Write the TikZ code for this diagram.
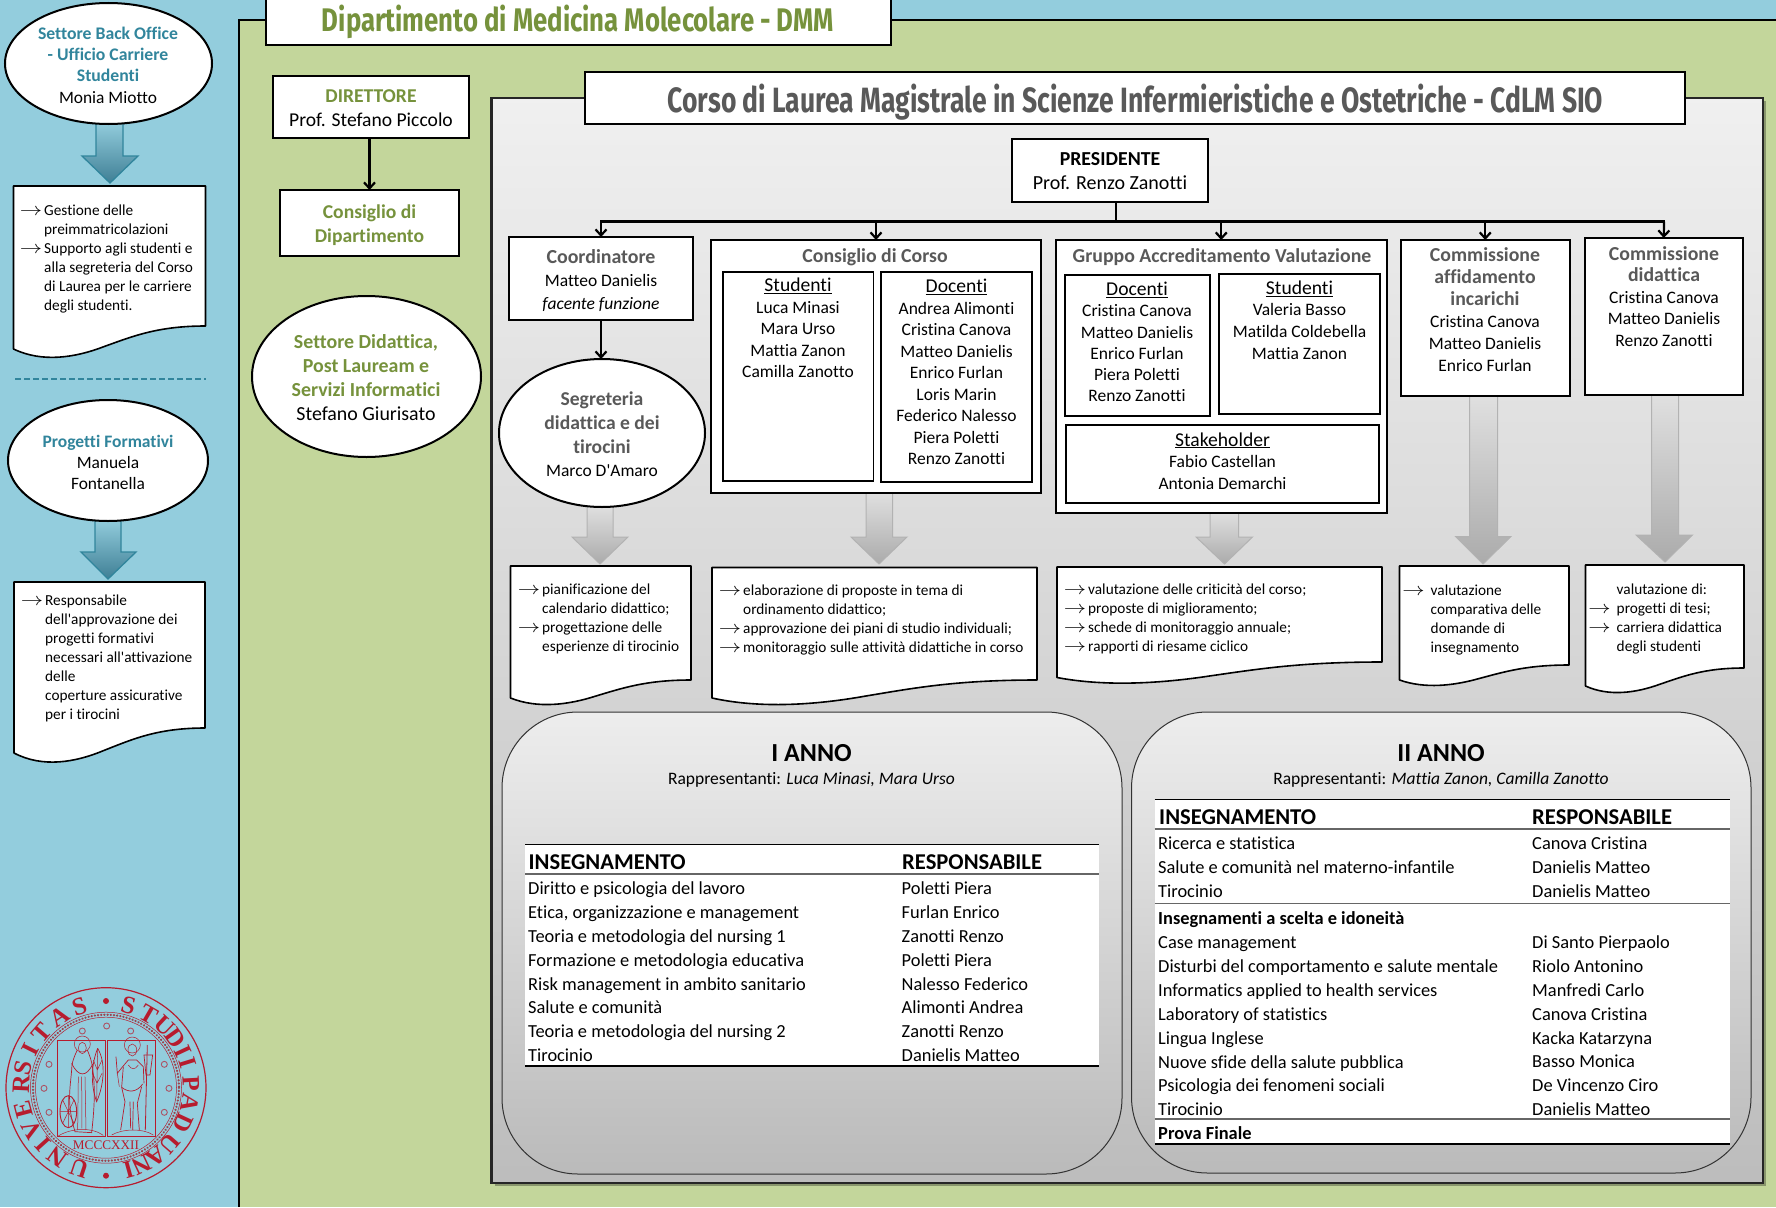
\documentclass[tikz,border=0pt]{standalone}
\usepackage{fontspec}
\setmainfont{Carlito}[Ligatures={TeXOff,CommonOff}]
\newfontfamily\titlefont{Fira Sans}
\newfontfamily\sealfont{Liberation Serif}
\usetikzlibrary{shapes.geometric,arrows.meta}
\definecolor{bgblue}{HTML}{93CDDD}
\definecolor{bggreen}{HTML}{C3D69B}
\definecolor{dgreen}{HTML}{76923C}
\definecolor{teal}{HTML}{31859C}
\definecolor{tealdk}{HTML}{3F7F95}
\definecolor{dgray}{HTML}{595959}
\definecolor{sealred}{HTML}{B71C2E}
\newcommand\fs[2]{\fontsize{#1}{#2}\selectfont}
\newcommand\arr{\scalebox{1.55}[1.25]{$\rightarrow$}}
\newcommand\ar{\llap{\arr\hspace{2pt}}}
\newcommand\arw{\llap{\arr\hspace{6pt}}}
\newcommand\hgreen[1]{\textcolor{dgreen}{\textbf{#1}}}
\newcommand\hteal[1]{\textcolor{teal}{\textbf{#1}}}
\newcommand\hgray[1]{\textcolor{dgray}{\textbf{#1}}}
% box by corners
\newcommand\rb[6][boxs]{%
  \pgfmathsetmacro\cxa{(#3+#5)/2}\pgfmathsetmacro\cya{(#4+#6)/2}%
  \pgfmathsetmacro\wa{#5-#3}\pgfmathsetmacro\ha{#6-#4}%
  \node[#1,minimum width=\wa pt,minimum height=\ha pt] (#2) at (\cxa,\cya) {};}
% text node
\newcommand\tn[5][ctext]{\node[#1,#3] (#2) at (#4) {#5};}
% document shape: l t r yr yl
\newcommand\docshape[5]{%
  \pgfmathsetmacro\w{#3-#1}\pgfmathsetmacro\h{#5-#4}%
  \pgfmathsetmacro\ax{#3-.25*\w}\pgfmathsetmacro\bx{#1+.62*\w}\pgfmathsetmacro\by{#5-.55*\h}%
  \pgfmathsetmacro\mx{#1+.47*\w}\pgfmathsetmacro\my{#5-.1*\h}%
  \pgfmathsetmacro\cx{#1+.32*\w}\pgfmathsetmacro\cy{#5+.38*\h}%
  \pgfmathsetmacro\dx{#1+.15*\w}\pgfmathsetmacro\dy{#5+.6*\h}%
  \draw[docs] (#1,#2) -- (#3,#2) -- (#3,#4) .. controls (\ax,#4) and (\bx,\by) .. (\mx,\my)
     .. controls (\cx,\cy) and (\dx,\dy) .. (#1,#5) -- cycle;}
% block arrow: style sx1 sx2 y1 y2 hx1 hx2 tipx tipy
\newcommand\barrow[9]{%
  \draw[#1] (#2,#4) -- (#3,#4) -- (#3,#5) -- (#7,#5) -- (#8,#9) -- (#6,#5) -- (#2,#5) -- cycle;}
\tikzset{
  x=1pt,y=-1pt,
  boxs/.style={draw=black,fill=white,line width=2pt,inner sep=0pt,outer sep=0pt},
  ell/.style={ellipse,draw=black,fill=white,line width=2pt,inner sep=0pt,outer sep=0pt},
  docs/.style={draw=black,fill=white,line width=1.6pt,line join=round},
  ctext/.style={align=center,inner sep=0pt,text=black,yshift=-1pt},
  ltext/.style={align=left,inner sep=0pt,anchor=west,text=black,yshift=-1pt},
  link/.style={draw=black,line width=2.4pt},
  linka/.style={draw=black,line width=2.2pt,-{Straight Barb[length=6pt,width=11pt]}},
  bluearr/.style={draw=teal,line width=1.3pt,top color=bgblue,bottom color=tealdk,line join=miter},
  grayarr/.style={draw=black!30,line width=1pt,top color=black!12,bottom color=black!33},
  panel/.style={draw=black!80,line width=1pt,top color=black!7,bottom color=black!27,rounded corners=76pt},
  srow/.style={font=\fs{18.4}{23.86}},
  shead/.style={font=\fs{22.6}{24}\bfseries},
  dtext/.style={ltext,font=\fs{15.3}{19},yshift=-1.4pt},
  seal/.style={draw=sealred,line width=.5pt},
}
\begin{document}
\begin{tikzpicture}
\useasboundingbox (0,0) rectangle (1776,1207);
% backgrounds
\fill[bgblue] (0,0) rectangle (1776,1207);
\fill[bggreen] (239,20) rectangle (1776,1207);
\draw[black,line width=2.2pt] (239,1207) -- (239,20) -- (1776,20);

% left column
\barrow{bluearr}{96}{123}{122}{156}{82}{138}{110}{183}
\barrow{bluearr}{95}{121}{519}{552}{81}{136}{108}{579}
\rb[ell]{elBack}{5}{3}{212}{124}
\tn{tBack}{font=\fs{17.7}{21}}{108,64}{\hteal{Settore Back Office}\\\hteal{- Ufficio Carriere}\\\hteal{Studenti}\\[1pt]\fs{17.4}{21}Monia Miotto}
\docshape{13.5}{186}{205.5}{326}{349}
\tn[dtext]{tDoc1}{}{44,256.5}{\ar Gestione delle\\preimmatricolazioni\\\ar Supporto agli studenti e\\alla segreteria del Corso\\di Laurea per le carriere\\degli studenti.}
\draw[teal,line width=1.4pt,dash pattern=on 6pt off 3pt] (15,379) -- (206,379);
\rb[ell]{elProg}{8}{400}{208}{521}
\tn{tProg}{font=\fs{17.5}{21}}{108,461}{\hteal{Progetti Formativi}\\\fs{17.4}{21}Manuela\\\fs{17.4}{21}Fontanella}
\docshape{14}{582}{205}{728}{753}
\tn[dtext]{tDoc2}{}{45,656.5}{\ar Responsabile\\dell'approvazione dei\\progetti formativi\\necessari all'attivazione\\delle\\coperture assicurative\\per i tirocini}

% seal
\draw[sealred,line width=1.2pt] (106,1087.7) circle (100);
\draw[sealred,line width=.5pt] (106,1087.7) circle (75.5);
\draw[sealred!70!black!80,line width=2.4pt,dash pattern=on .1pt off 3.1pt,line cap=round] (106,1087.7) circle (73);
\draw[sealred,line width=.5pt] (106,1087.7) circle (70.5);
\fill[sealred] (106,1001) circle (3) (106,1175.7) circle (3);
\foreach \l/\a [count=\i] in {U/251.6,N/234.8,I/221.9,V/209.5,E/194.7,R/177.4,S/166.8,I/153.2,T/139.4,A/123.2,S/108.2,S/74.6,T/60,U/46.8,D/35.3,I/25,I/17,P/3,A/-10.6,D/-24.8,U/-41,A/-53.7,N/-64.7,I/-74.5}{
  \pgfmathsetmacro\sx{106+85*cos(\a)}\pgfmathsetmacro\sy{1087.7-85*sin(\a)}
  \pgfmathsetmacro\rt{\a-90}
  \node[inner sep=0pt,text=sealred,font=\sealfont\bfseries\fs{25}{25},rotate=\rt] (sl\i) at (\sx,\sy) {\l};
}
\node[inner sep=0pt,text=sealred,font=\sealfont\fs{13.2}{14}] (tSealYear) at (106,1145) {MCCCXXII};
\begin{scope}[x=.3333pt,y=-.3333pt,yshift=-960pt,seal]
  \foreach \p in {(247,213),(320,198),(392,213),(493,313),(507,385),(493,457),(147,313),(132,385),(147,457)}{
    \draw[seal,line width=.9pt,draw=sealred!70!bgblue] \p circle (9);
  }
  \draw[seal,line width=.7pt] (173,240) rectangle (317,530);
  \draw[seal,line width=.7pt] (323,240) rectangle (465,530);
  % woman
  \draw[seal] (247,252) circle (24);
  \draw[seal] (247,264) ellipse (12 and 17);
  \draw[seal,line width=.7pt] (232,270) .. controls (220,295) and (215,310) .. (215,330) .. controls (210,390) and (200,430) .. (225,515) -- (275,518) .. controls (285,430) and (285,380) .. (278,325) .. controls (275,300) and (268,285) .. (262,270);
  \draw[seal,line width=.7pt] (215,310) .. controls (235,352) and (260,352) .. (278,312);
  \draw[seal] (235,350) -- (233,510) (255,350) -- (258,510) (245,350) -- (246,505);
  \draw[seal,line width=.7pt] (293,265) .. controls (320,310) and (310,380) .. (290,425) .. controls (270,370) and (275,310) .. (293,265);
  \draw[seal] (293,265) -- (290,425) (280,300) -- (292,330) (306,300) -- (292,330) (278,340) -- (291,370) (306,340) -- (291,370);
  \draw[seal,line width=.9pt] (205,455) ellipse (25 and 48);
  \draw[seal] (180,455) -- (230,455) (205,407) -- (205,503) (188,420) -- (222,490) (188,490) -- (222,420);
  \draw[seal] (175,528) .. controls (210,505) and (275,500) .. (310,526);
  % man
  \draw[seal] (397,255) circle (24);
  \draw[seal] (397,270) ellipse (13 and 18);
  \draw[seal,line width=.7pt] (348,290) -- (352,340) -- (368,320) -- (385,300) -- (410,300) -- (430,320) -- (432,370);
  \draw[seal,line width=.7pt] (370,320) -- (365,382) .. controls (385,398) and (410,398) .. (428,372);
  \draw[seal] (352,340) -- (358,380);
  \draw[seal,line width=.7pt] (365,382) -- (375,425) -- (362,510) (425,380) -- (412,430) -- (418,510) (390,425) -- (392,505) (400,425) -- (398,510);
  \draw[seal] (385,315) .. controls (395,330) and (405,330) .. (415,315);
  \draw[seal,line width=.8pt] (442,255) -- (436,510);
  \draw[seal,line width=.7pt] (432,285) -- (458,285) -- (450,345) -- (438,345) -- cycle;
  \draw[seal] (335,525) .. controls (370,505) and (430,505) .. (460,525);
\end{scope}

% department title
\rb{boxDept}{266}{-4}{891}{45}
\node[inner sep=0pt,text=dgreen] (tDept) at (578,22) {\resizebox{512pt}{26.5pt}{\titlefont\bfseries Dipartimento di Medicina Molecolare - DMM}};
\rb{boxDir}{273}{76}{469}{138}
\tn{tDir}{font=\fs{19.6}{24}}{371,107}{\hgreen{DIRETTORE}\\Prof. Stefano Piccolo}
\rb{boxCdip}{280}{190}{459}{256}
\tn{tCdip}{font=\fs{19.6}{24}}{369.5,224}{\hgreen{Consiglio di}\\\hgreen{Dipartimento}}
\draw[linka] (boxCdip.north |- boxDir.south) -- (boxCdip.north);
\rb[ell]{elSet}{252}{296}{481}{457}
\tn{tSet}{font=\fs{19.9}{24}}{366,376.5}{\hgreen{Settore Didattica,}\\\hgreen{Post Lauream e}\\\hgreen{Servizi Informatici}\\Stefano Giurisato}

% main panel
\fill[black,opacity=.3] (494.5,101) rectangle (1766,1186);
\path[draw=black!85,line width=2.2pt,top color=black!6,bottom color=black!26] (491.5,98) rectangle (1763,1183);
\rb{boxCourse}{585}{72}{1685}{124}
\node[inner sep=0pt,text=dgray] (tCourse) at (1135.5,102) {\resizebox{935.5pt}{28.5pt}{\titlefont\bfseries Corso di Laurea Magistrale in Scienze Infermieristiche e Ostetriche - CdLM SIO}};

% gray arrows
\barrow{grayarr}{587}{613}{505}{537}{572}{628}{600}{564}
\barrow{grayarr}{866}{892.5}{492}{537}{851}{907}{879}{564}
\barrow{grayarr}{1210}{1238.5}{512}{537}{1196}{1252.5}{1224.5}{564}
\barrow{grayarr}{1469.5}{1497.5}{394}{536.5}{1455.5}{1511}{1483}{564}
\barrow{grayarr}{1651.5}{1678.5}{393}{535}{1636}{1692.5}{1665}{562}

% organisation boxes
\rb{boxPres}{1012}{139}{1208}{201.5}
\tn{tPres}{font=\fs{19.8}{24}}{1110,170}{\textbf{PRESIDENTE}\\\fs{20}{24}Prof. Renzo Zanotti}
\rb{boxCoord}{509}{237}{693}{320}
\tn{tCoord}{font=\fs{17.5}{23}}{601,280}{\fs{19.9}{23}\hgray{Coordinatore}\\Matteo Danielis\\\textit{facente funzione}}
\rb[ell]{elSeg}{499}{359}{705}{507}
\tn{tSeg}{font=\fs{19.6}{23.6}}{602,433.5}{\hgray{Segreteria}\\\hgray{didattica e dei}\\\hgray{tirocini}\\\fs{17.5}{23.6}Marco D'Amaro}
\rb{boxCons}{711}{240}{1041}{493}
\tn{tCons}{font=\fs{19.8}{23}}{875,256}{\hgray{Consiglio di Corso}}
\rb[boxs,line width=1.6pt]{boxStud}{723}{272}{873.5}{481}
\tn{tStud}{font=\fs{17.5}{21.6}}{798,327}{\fs{19.6}{21.6}\underline{Studenti}\\Luca Minasi\\Mara Urso\\Mattia Zanon\\Camilla Zanotto}
\rb[boxs,line width=1.6pt]{boxDoc}{881}{272}{1032}{482}
\tn{tDoc}{font=\fs{17.5}{21.5}}{956.5,371}{\fs{19.6}{21.5}\underline{Docenti}\\Andrea Alimonti\\Cristina Canova\\Matteo Danielis\\Enrico Furlan\\Loris Marin\\Federico Nalesso\\Piera Poletti\\Renzo Zanotti}
\rb{boxGrp}{1056}{240}{1386.5}{513}
\tn{tGrp}{font=\fs{19.8}{23}}{1222,256}{\hgray{Gruppo Accreditamento Valutazione}}
\rb[boxs,line width=1.6pt]{boxGD}{1065}{275}{1210}{416}
\tn{tGD}{font=\fs{17.5}{21.3}}{1137,341}{\fs{19.6}{21.3}\underline{Docenti}\\Cristina Canova\\Matteo Danielis\\Enrico Furlan\\Piera Poletti\\Renzo Zanotti}
\rb[boxs,line width=1.6pt]{boxGS}{1219}{274}{1380}{414}
\tn{tGS}{font=\fs{17.5}{21.7}}{1299.5,319}{\fs{19.6}{21.7}\underline{Studenti}\\Valeria Basso\\Matilda Coldebella\\Mattia Zanon}
\rb[boxs,line width=1.6pt]{boxGK}{1066}{425}{1379}{503}
\tn{tGK}{font=\fs{17.5}{21.7}}{1222.5,460}{\fs{19.6}{21.7}\underline{Stakeholder}\\Fabio Castellan\\Antonia Demarchi}
\rb{boxAff}{1400.5}{240}{1570}{395.5}
\tn{tAff}{font=\fs{17.5}{22}}{1485,308.5}{\fs{19.8}{23.9}\hgray{Commissione}\\\fs{19.8}{23.9}\hgray{affidamento}\\\fs{19.8}{23.9}\hgray{incarichi}\\Cristina Canova\\Matteo Danielis\\Enrico Furlan}
\rb{boxDid}{1584.5}{238}{1743}{394.5}
\tn{tDid}{font=\fs{17.5}{21.5}}{1664,295.5}{\fs{19.8}{23.5}\hgray{Commissione}\\\fs{19.8}{23.5}\hgray{didattica}\\Cristina Canova\\Matteo Danielis\\Renzo Zanotti}
% connectors
\coordinate (stem) at (1116,201.5);
\coordinate (trL) at (601,221.5);
\coordinate (trR) at (1664,221.5);
\draw[link] (stem) -- (stem |- trL);
\draw[link,line cap=rect] (trL) -- (trR);
\draw[linka] (trL) -- (boxCoord.north);
\draw[linka] (boxCons.north |- trL) -- (boxCons.north);
\draw[linka] (boxGrp.north |- trL) -- (boxGrp.north);
\draw[linka] (boxAff.north |- trL) -- (boxAff.north);
\draw[linka] (trR) -- (boxDid.north);
\draw[linka] (boxCoord.south) -- (boxCoord.south |- elSeg.north);

% task documents
\docshape{510.5}{566}{691}{680}{698}
\tn[dtext]{tD1}{}{542,616.5}{\ar pianificazione del\\calendario didattico;\\\ar progettazione delle\\esperienze di tirocinio}
\docshape{712}{567.5}{1037}{680}{698}
\tn[dtext]{tD2}{}{743,617.5}{\ar elaborazione di proposte in tema di\\ordinamento didattico;\\\ar approvazione dei piani di studio individuali;\\\ar monitoraggio sulle attività didattiche in corso}
\docshape{1057}{567}{1382}{662}{677.5}
\tn[dtext]{tD3}{}{1088,617}{\ar valutazione delle criticità del corso;\\\ar proposte di miglioramento;\\\ar schede di monitoraggio annuale;\\\ar rapporti di riesame ciclico}
\docshape{1399.5}{566}{1569}{665}{680}
\tn[dtext]{tD4}{}{1430.5,618}{\arw valutazione\\comparativa delle\\domande di\\insegnamento}
\docshape{1585.5}{565}{1744}{668}{686}
\tn[dtext]{tD5}{}{1616.5,617}{valutazione di:\\\arw progetti di tesi;\\\arw carriera didattica\\degli studenti}

% I anno
\rb[panel]{panI}{502}{712}{1122}{1174}
\tn{tI}{font=\fs{26}{28}\bfseries}{811.5,752}{I ANNO}
\tn{tIr}{font=\fs{17.5}{20}}{811.5,778.5}{Rappresentanti: \textit{Luca Minasi, Mara Urso}}
\fill[white] (525,844.3) rectangle (1099,1065.7);
\draw[black,line width=1pt] (525,844.3) -- (1099,844.3);
\draw[black!60,line width=1.6pt] (525,873.7) -- (1099,873.7);
\draw[black,line width=1.8pt] (525,1065.7) -- (1099,1065.7);
\tn[ltext]{tIh1}{shead}{528.5,861}{INSEGNAMENTO}
\tn[ltext]{tIh2}{shead}{902,861}{RESPONSABILE}
\tn[ltext]{tIa}{srow}{528,970.8}{Diritto e psicologia del lavoro\\Etica, organizzazione e management\\Teoria e metodologia del nursing 1\\Formazione e metodologia educativa\\Risk management in ambito sanitario\\Salute e comunità\\Teoria e metodologia del nursing 2\\Tirocinio}
\tn[ltext]{tIb}{srow}{901.5,970.8}{Poletti Piera\\Furlan Enrico\\Zanotti Renzo\\Poletti Piera\\Nalesso Federico\\Alimonti Andrea\\Zanotti Renzo\\Danielis Matteo}

% II anno
\rb[panel]{panII}{1131.5}{712}{1751}{1173}
\tn{tII}{font=\fs{26}{28}\bfseries}{1441,752}{II ANNO}
\tn{tIIr}{font=\fs{17.5}{20}}{1441,778.5}{Rappresentanti: \textit{Mattia Zanon, Camilla Zanotto}}
\fill[white] (1154.5,799.3) rectangle (1729.5,1143.7);
\draw[black,line width=1pt] (1154.5,799.3) -- (1729.5,799.3);
\draw[black!60,line width=1.6pt] (1154.5,828.7) -- (1729.5,828.7);
\draw[black!60,line width=1.2pt] (1154.5,903.7) -- (1729.5,903.7);
\draw[black!60,line width=1.2pt] (1154.5,1119) -- (1729.5,1119);
\draw[black,line width=1.8pt] (1154.5,1143.7) -- (1729.5,1143.7);
\tn[ltext]{tIIh1}{shead}{1159,816}{INSEGNAMENTO}
\tn[ltext]{tIIh2}{shead}{1532,816}{RESPONSABILE}
\tn[ltext]{tIIa}{srow}{1158,866.3}{Ricerca e statistica\\Salute e comunità nel materno-infantile\\Tirocinio}
\tn[ltext]{tIIb}{srow}{1532,866.3}{Canova Cristina\\Danielis Matteo\\Danielis Matteo}
\tn[ltext]{tIIc}{srow}{1158,1013}{\textbf{Insegnamenti a scelta e idoneità}\\Case management\\Disturbi del comportamento e salute mentale\\Informatics applied to health services\\Laboratory of statistics\\Lingua Inglese\\Nuove sfide della salute pubblica\\Psicologia dei fenomeni sociali\\Tirocinio}
\tn[ltext]{tIId}{srow}{1532,1024.8}{Di Santo Pierpaolo\\Riolo Antonino\\Manfredi Carlo\\Canova Cristina\\Kacka Katarzyna\\Basso Monica\\De Vincenzo Ciro\\Danielis Matteo}
\tn[ltext]{tIIe}{srow}{1158,1132.3}{\textbf{Prova Finale}}
\end{tikzpicture}
\end{document}
